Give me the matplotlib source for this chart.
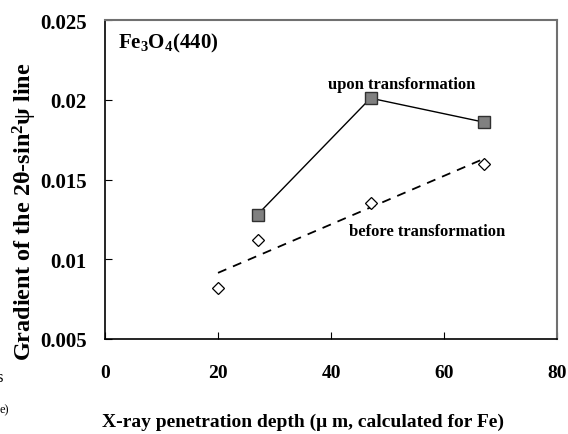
import numpy as np
import matplotlib
matplotlib.use("Agg")
import matplotlib.pyplot as plt

# Data
depth = [20, 27, 47, 67]
before = [0.0082, 0.0112, 0.0135, 0.0160]
depth_upon = [27, 47, 67]
upon = [0.0128, 0.0201, 0.0186]
xticks = [0, 20, 40, 60, 80]
yticks = [0.005, 0.01, 0.015, 0.02, 0.025]
ytick_labels = ["0.005", "0.01", "0.015", "0.02", "0.025"]

plt.rcParams['font.family'] = ['Liberation Serif', 'DejaVu Serif']
plt.rcParams['mathtext.fontset'] = 'custom'
plt.rcParams['mathtext.rm'] = 'Liberation Serif'
plt.rcParams['mathtext.bf'] = 'Liberation Serif:bold'
plt.rcParams['mathtext.it'] = 'Liberation Serif:italic'

fig = plt.figure(figsize=(5.68, 4.35), dpi=100)
ax = fig.add_axes([0.1849, 0.2184, 0.9806 - 0.1849, 0.9517 - 0.2184])

# trend line for before
coef = np.polyfit(depth, before, 1)
xf = np.array([min(depth), max(depth)])
ax.plot(xf, np.polyval(coef, xf), color='black', lw=1.3, ls=(0, (5, 4)))

ax.plot(depth_upon, upon, color='black', lw=1.0, marker='s', ms=8,
        mfc='#808080', mec='#303030', mew=1.0, zorder=3)
ax.plot(depth, before, ls='none', marker='D', ms=6, mfc='white',
        mec='black', mew=0.9, zorder=3)

ax.set_xlim(0, 80)
ax.set_ylim(0.005, 0.025)
ax.set_xticks(xticks)
ax.set_yticks(yticks)
ax.set_yticklabels(ytick_labels)
for lab in ax.get_xticklabels():
    lab.set_fontweight('bold')
    lab.set_fontsize(14)
for lab in ax.get_yticklabels():
    lab.set_fontweight('bold')
    lab.set_fontsize(15)
ax.tick_params(axis='x', direction='in', length=5, width=0.8, pad=18)
ax.tick_params(axis='y', direction='in', length=5, width=0.8, pad=13)

for s in ['left', 'bottom']:
    ax.spines[s].set_color('black')
    ax.spines[s].set_linewidth(1.2)
for s in ['top', 'right']:
    ax.spines[s].set_color('#707070')
    ax.spines[s].set_linewidth(1.5)

ax.text(0.028, 0.93, r'Fe$_\mathbf{3}$O$_\mathbf{4}$(440)', transform=ax.transAxes,
        fontsize=15, fontweight='bold', va='center', ha='left')
ax.text(52.5, 0.0210, 'upon transformation', fontsize=12, fontweight='bold',
        ha='center', va='center')
ax.text(57, 0.01175, 'before transformation', fontsize=12,
        fontweight='bold', ha='center', va='center')

fig.text(0.043, 0.513, r'Gradient of the 2θ-sin$^\mathbf{2}$ψ line', rotation=90,
         fontsize=17.5, fontweight='bold', ha='center', va='center')
fig.text(0.534, 0.030, 'X-ray penetration depth (μ m, calculated for Fe)',
         fontsize=14, fontweight='bold', ha='center', va='center')

# cropped remnants at the left edge
fig.text(0.004, 0.131, 's', fontsize=12, ha='right', va='center')
fig.text(0.016, 0.057, 'e)', fontsize=9, ha='right', va='center')

fig.savefig('out.png', dpi=100)
